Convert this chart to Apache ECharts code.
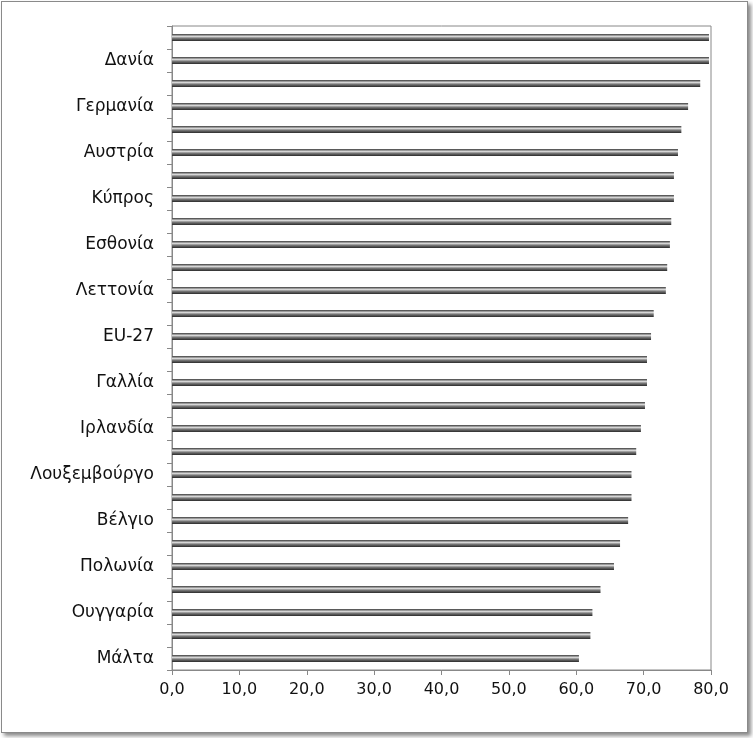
<!DOCTYPE html>
<html><head><meta charset="utf-8">
<script src="https://cdn.jsdelivr.net/npm/echarts@6/dist/echarts.min.js"></script>
<style>body{margin:0;background:#fff}#c{position:absolute;left:1px;top:1px;width:745px;height:730px;border:1px solid #8a8a8a;box-shadow:3px 3px 4px #888;background:#fff}</style>
</head><body><div id="c"></div>
<script>
// bottom to top
const categories = ["Μάλτα","Ιταλία","Ουγγαρία","Ελλάδα","Πολωνία","Ρουμανία","Βέλγιο","Ισπανία","Λουξεμβούργο","Βουλγαρία","Ιρλανδία","Σλοβακία","Γαλλία","Λιθουανία","EU-27","Σλοβενία","Λεττονία","Πορτογαλία","Εσθονία","Τσεχία","Κύπρος","Φινλανδία","Αυστρία","Ηνωμένο Βασίλειο","Γερμανία","Ολλανδία","Δανία","Σουηδία"];
const values = [60.4,62.1,62.4,63.6,65.6,66.5,67.7,68.2,68.2,68.9,69.6,70.2,70.5,70.5,71.1,71.5,73.3,73.5,73.9,74.1,74.5,74.5,75.1,75.6,76.6,78.4,79.7,79.7];
const xTicks = [0,10,20,30,40,50,60,70,80];
const chart = echarts.init(document.getElementById('c'));
chart.setOption({
  animation:false,
  grid:{left:170,right:36,top:24,bottom:62,show:true,borderColor:'#888',borderWidth:1},
  xAxis:{type:'value',min:xTicks[0],max:xTicks[xTicks.length-1],interval:10,
    axisLine:{show:true,lineStyle:{color:'#888'}},axisTick:{show:true,length:5,lineStyle:{color:'#888'}},
    splitLine:{show:false},
    axisLabel:{color:'#111',fontSize:16,fontFamily:'DejaVu Sans',margin:12,formatter:v=>v.toFixed(1).replace('.',',')}},
  yAxis:{type:'category',data:categories,
    axisLine:{show:true,lineStyle:{color:'#888'}},axisTick:{show:true,interval:0,lineStyle:{color:'#888'}},
    axisLabel:{interval:1,color:'#111',fontSize:17,fontFamily:'DejaVu Sans',margin:18}},
  series:[{type:'bar',data:values,barWidth:7,
    itemStyle:{color:new echarts.graphic.LinearGradient(0,0,0,1,[
      {offset:0,color:'#3a3a3a'},{offset:0.35,color:'#d8d8d8'},{offset:0.6,color:'#7a7a7a'},{offset:1,color:'#2a2a2a'}])}}]
});
</script></body></html>
